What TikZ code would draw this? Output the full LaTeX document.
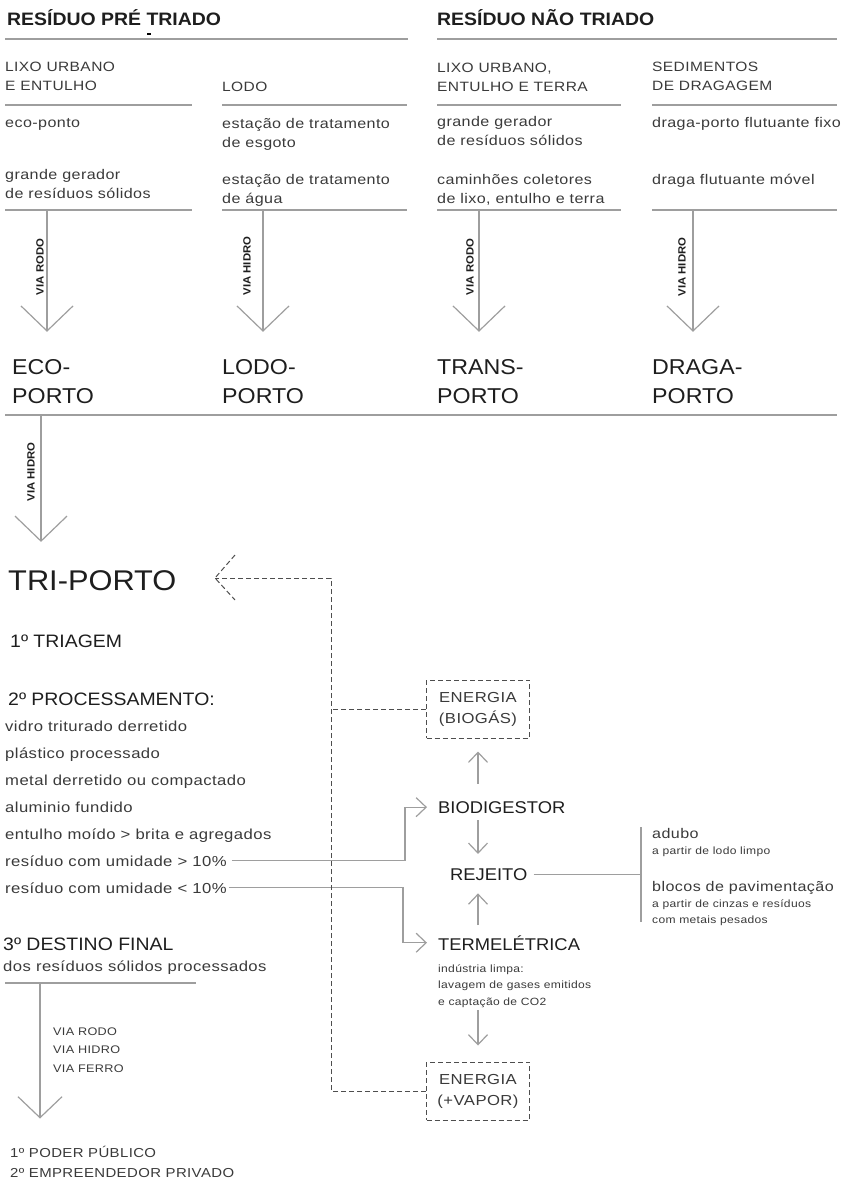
\documentclass[tikz,border=0pt]{standalone}
\usepackage{fontspec}
\setmainfont{Liberation Sans}[FakeStretch=1.08]
\newfontfamily\smallfont{Liberation Sans}[FakeStretch=1.15,LetterSpace=3]
\usetikzlibrary{arrows.meta}
\definecolor{ink}{HTML}{1E1E1E}
\definecolor{txtgray}{HTML}{3A3A3A}
\definecolor{linegray}{HTML}{9E9E9E}
\definecolor{dashgray}{HTML}{4E4E4E}
\tikzset{%
  >={Straight Barb[length=25pt,width=52pt]},
            base/.style = {inner sep=0pt, anchor=base west, align=left,
                           text=txtgray, font=\smallfont\fontsize{14}{19}\selectfont},
  head/.style  = {base, text=ink, font=\bfseries\fontsize{18}{20}\selectfont},
  cat/.style   = {base, font=\smallfont\fontsize{13.5}{19}\selectfont},
  porto/.style = {base, text=ink, font=\fontsize{21.5}{29}\selectfont},
  stage/.style = {base, text=ink, font=\fontsize{18}{22}\selectfont},
  item/.style  = {base, font=\smallfont\fontsize{14.5}{26.8}\selectfont},
  note/.style  = {base, font=\smallfont\fontsize{10.5}{16.5}\selectfont},
  unit/.style  = {base, text=ink, font=\fontsize{17}{20}\selectfont},
  via/.style   = {inner sep=0pt, rotate=90, text=ink,
                  font=\bfseries\fontsize{10.5}{12}\selectfont},
  energy/.style = {draw=dashgray, dash pattern=on 5pt off 3pt, line width=1pt,
                   inner sep=0pt, minimum width=103pt, minimum height=58pt,
                   align=center, text=txtgray,
                   font=\smallfont\fontsize{14.5}{21}\selectfont},
  rule/.style  = {draw=linegray, line width=1.2pt},
  flow/.style  = {rule, ->},
  hop/.style   = {rule, -{Straight Barb[length=10pt,width=19pt]}},
  feed/.style  = {draw=dashgray, line width=1pt, dash pattern=on 5pt off 3pt},
}

\begin{document}
\begin{tikzpicture}[x=1pt, y=-1pt]
  \useasboundingbox (0,0) rectangle (849,1180);

  % residuo pre triado (multi-line nodes sit on their last line)
  \node (pre)       [head] at (7,26)    {RESÍDUO PRÉ TRIADO};
  \fill[black] (147,33) rectangle (151,35);
  \draw[rule] (5,39) -- (408,39);
  \node (lixo)      [cat]  at (5,91)    {LIXO URBANO\\E ENTULHO};
  \node (lodo)      [cat]  at (222,92)  {LODO};
  \draw[rule] (5,105) -- (192,105);
  \draw[rule] (222,105) -- (407,105);
  \node (ecoponto)  [base] at (5,128)   {eco-ponto};
  \node (gerador)   [base] at (5,198)   {grande gerador\\de resíduos sólidos};
  \node (esgoto)    [base] at (222,147) {estação de tratamento\\de esgoto};
  \node (agua)      [base] at (222,203) {estação de tratamento\\de água};
  \draw[rule] (5,210) -- (192,210);
  \draw[rule] (222,210) -- (407,210);

  % residuo nao triado
  \node (nao)       [head] at (437,26)  {RESÍDUO NÃO TRIADO};
  \draw[rule] (437,39) -- (837,39);
  \node (terra)     [cat]  at (437,92)  {LIXO URBANO,\\ENTULHO E TERRA};
  \node (sedim)     [cat]  at (652,91)  {SEDIMENTOS\\DE DRAGAGEM};
  \draw[rule] (437,105) -- (621,105);
  \draw[rule] (652,105) -- (837,105);
  \node (gerador2)  [base] at (437,146) {grande gerador\\de resíduos sólidos};
  \node (caminhoes) [base] at (437,203) {caminhões coletores\\de lixo, entulho e terra};
  \node (fixo)      [base] at (652,128) {draga-porto flutuante fixo};
  \node (movel)     [base] at (652,184) {draga flutuante móvel};
  \draw[rule] (437,210) -- (621,210);
  \draw[rule] (652,210) -- (837,210);

  % portos
  \node (ecoporto)   [porto] at (12,403)  {ECO-\\PORTO};
  \node (lodoporto)  [porto] at (222,403) {LODO-\\PORTO};
  \node (transporto) [porto] at (437,403) {TRANS-\\PORTO};
  \node (dragaporto) [porto] at (652,403) {DRAGA-\\PORTO};
  \draw[rule] (5,415) -- (837,415);

  \coordinate (ecoin)   at (47,210);
  \coordinate (lodoin)  at (263,210);
  \coordinate (transin) at (479,210);
  \coordinate (dragain) at (693,210);
  \node (viaeco)   [via] at (40,267)  {VIA RODO};
  \node (vialodo)  [via] at (247,266) {VIA HIDRO};
  \node (viatrans) [via] at (470,267) {VIA RODO};
  \node (viadraga) [via] at (682,267) {VIA HIDRO};
  \draw[flow, shorten >=27pt] (ecoin)   -- (ecoin   |- ecoporto.north);
  \draw[flow, shorten >=27pt] (lodoin)  -- (lodoin  |- lodoporto.north);
  \draw[flow, shorten >=27pt] (transin) -- (transin |- transporto.north);
  \draw[flow, shorten >=27pt] (dragain) -- (dragain |- dragaporto.north);

  % tri-porto
  \coordinate (triin) at (41,415);
  \node (viatri)   [via] at (31,472) {VIA HIDRO};
  \node (triporto) [base, text=ink, font=\fontsize{28.5}{30}\selectfont] at (8,590) {TRI-PORTO};
  \draw[flow, shorten >=28pt] (triin) -- (triin |- triporto.north);

  \node (triagem)   [stage] at (10,647) {1º TRIAGEM};
  \node (proc)      [stage] at (8,705)  {2º PROCESSAMENTO:};
  \node (materiais) [item]  at (5,839)  {vidro triturado derretido\\plástico processado\\metal derretido ou compactado\\aluminio fundido\\entulho moído > brita e agregados};
  \node (umidA)     [item]  at (5,866)  {resíduo com umidade > 10\%};
  \node (umidB)     [item]  at (5,893)  {resíduo com umidade < 10\%};

  \node (destino)     [stage] at (3,950) {3º DESTINO FINAL};
  \node (processados) [item]  at (3,971) {dos resíduos sólidos processados};
  \draw[rule] (5,983) -- (196,983);
  \coordinate (destin) at (40,983);
  \node (vias)   [base, font=\smallfont\fontsize{11}{18.5}\selectfont] at (53,1072) {VIA RODO\\VIA HIDRO\\VIA FERRO};
  \node (atores) [base, font=\smallfont\fontsize{13}{20}\selectfont] at (10,1177) {1º PODER PÚBLICO\\2º EMPREENDEDOR PRIVADO};
  \draw[rule, -{Straight Barb[length=21pt,width=44pt]}, shorten >=27pt] (destin) -- (destin |- atores.north);

  % tratamento
  \node (biogas)  [energy] at (478,709) {ENERGIA\\(BIOGÁS)};
  \node (biodig)  [unit]   at (438,813) {BIODIGESTOR};
  \node (rejeito) [unit]   at (450,880) {REJEITO};
  \node (termel)  [unit]   at (438,950) {TERMELÉTRICA};
  \node (limpa)   [note]   at (438,1005) {indústria limpa:\\lavagem de gases emitidos\\e captação de CO2};
  \node (vapor)   [energy] at (478,1091) {ENERGIA\\(+VAPOR)};

  \draw[hop, shorten <=17pt, shorten >=13pt] (biogas.south |- biodig.north) -- (biogas.south);
  \draw[hop, shorten <=7pt, shorten >=14pt] (biogas.south |- biodig.south) -- (biogas.south |- rejeito.north);
  \draw[hop, shorten <=10pt, shorten >=13pt] (biogas.south |- termel.north) -- (biogas.south |- rejeito.south);
  \draw[hop, shorten <=3pt, shorten >=16pt] (vapor.north |- limpa.south) -- (vapor.north);

  \draw[hop] ([xshift=5pt]umidA.east) -| ([xshift=-33pt]biodig.west) -- ([xshift=-11pt]biodig.west);
  \draw[hop] ([xshift=2pt]umidB.east) -| ([xshift=-35pt]termel.west) -- ([xshift=-11pt]termel.west);

  % produtos do rejeito
  \coordinate (prodtop) at (641,827);
  \coordinate (prodbot) at (641,922);
  \draw[rule] (prodtop) -- (prodbot);
  \draw[rule] ([xshift=6pt]rejeito.east) -- (rejeito.east -| prodtop);
  \node (adubo)      [base] at (652,838) {adubo};
  \node (adubonote)  [note] at (652,854) {a partir de lodo limpo};
  \node (blocos)     [base] at (652,891) {blocos de pavimentação};
  \node (blocosnote) [note] at (652,923.5) {a partir de cinzas e resíduos\\com metais pesados};

  % energia de volta ao tri-porto
  \coordinate (tritip)   at (215,578);
  \coordinate (feedbend) at (331,578);
  \draw[feed] (vapor.west) -| (feedbend) -- (tritip);
  \draw[feed] (biogas.west) -- (biogas.west -| feedbend);
  \draw[feed] ([shift={(20pt,23pt)}]tritip) -- (tritip) -- ([shift={(20pt,-22pt)}]tritip);
\end{tikzpicture}
\end{document}
